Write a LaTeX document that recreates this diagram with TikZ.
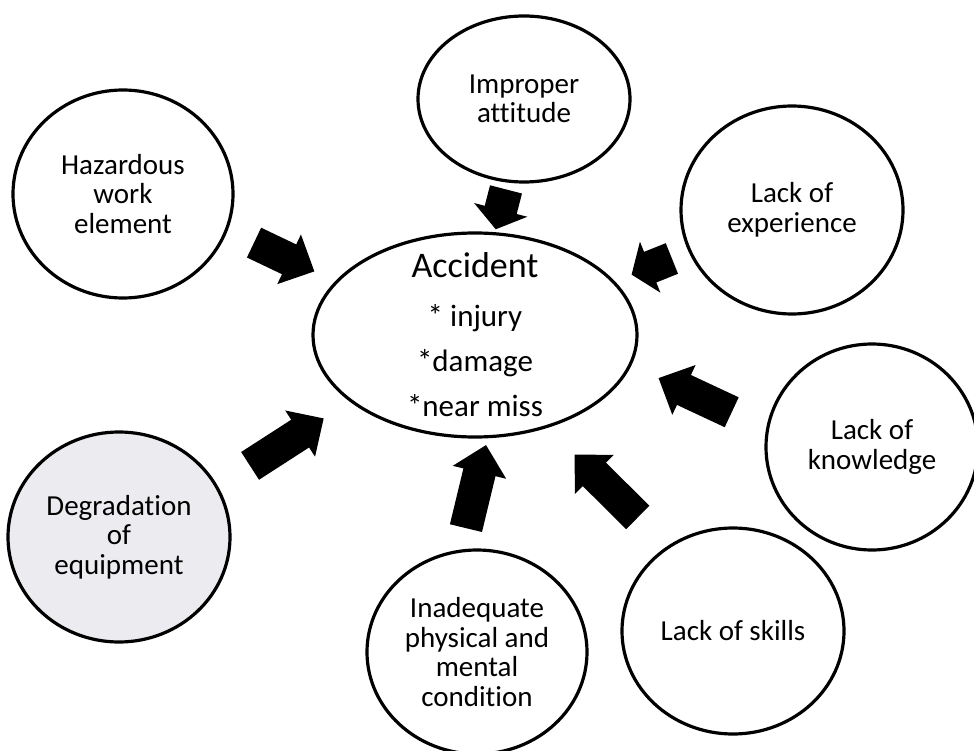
\documentclass[tikz,border=0pt]{standalone}
\usepackage{fontspec}
\setmainfont{Carlito}[Ligatures=NoCommon]
\usetikzlibrary{shapes.geometric, arrows.meta}
\definecolor{wornfill}{RGB}{236,236,240}

% flat block head: the thick shaft stops at its back edge
\pgfdeclarearrow{
  name = Block,
  parameters = {\the\pgfarrowlength,\the\pgfarrowwidth},
  setup code = {
    \pgfarrowssettipend{\pgfarrowlength}
    \pgfarrowssetlineend{1pt}
    \pgfarrowssetbackend{0pt}
    \pgfarrowssavethe\pgfarrowlength
    \pgfarrowssavethe\pgfarrowwidth
  },
  drawing code = {
    \pgfpathmoveto{\pgfqpoint{\pgfarrowlength}{0pt}}
    \pgfpathlineto{\pgfqpoint{0pt}{0.5\pgfarrowwidth}}
    \pgfpathlineto{\pgfqpoint{0pt}{-0.5\pgfarrowwidth}}
    \pgfpathclose
    \pgfusepathqfill
  },
  defaults = {length=28pt 0 0, width=55pt 0 0}
}

\begin{document}
\begin{tikzpicture}[
    x=1pt, y=-1pt,
    cause/.style={ellipse, draw, line width=3.2pt, inner sep=0pt, align=center, font=\fontsize{29}{29.5}\selectfont},
    blockarrow/.style={line width=33pt, -{Block[length=28pt 0 0]}},
    shortarrow/.style={line width=33pt, -{Block[length=20pt 0 0]}}
]
\useasboundingbox (0,0) rectangle (974,751);

% Centre: the accident
\node[ellipse, draw, line width=3.2pt, minimum width=324pt, minimum height=204pt, inner ysep=-30pt, align=center, font=\fontsize{31}{45}\selectfont] (acc) at (475,335) {{\fontsize{36}{45}\selectfont Accident}\\[4pt]* injury\\*damage\\*near miss};

% Causes around it
\node[cause, minimum width=220pt, minimum height=208pt] (haz) at (123,194) {Hazardous\\work\\element};
\node[cause, minimum width=212pt, minimum height=166pt] (att) at (524,99) {Improper\\attitude};
\node[cause, minimum width=222pt, minimum height=208pt] (exp) at (792,210) {Lack of\\experience};
\node[cause, minimum width=212pt, minimum height=206pt] (know) at (872,447) {Lack of\\knowledge};
\node[cause, minimum width=222pt, minimum height=206pt] (skill) at (733,631) {Lack of skills};
\node[cause, minimum width=220pt, minimum height=204pt] (cond) at (477,652) {Inadequate\\physical and\\mental\\condition};
\node[cause, fill=wornfill, minimum width=222pt, minimum height=210pt] (equip) at (119,537) {Degradation\\of\\equipment};

% Arrows
\draw[blockarrow, shorten <=29pt, shorten >=23pt] (haz.-19.6) -- (acc.159.4);
\draw[shortarrow, shorten <=7pt, shorten >=3pt] (att.-101.5) -- (acc.79.5);
\draw[shortarrow, shorten <=18pt, shorten >=18pt] (exp.-158.8) -- (acc.21.9);
\draw[blockarrow, shorten <=38pt, shorten >=30pt] (know.170.5) -- (acc.-11.7);
\draw[blockarrow, shorten <=41pt, shorten >=38pt] (skill.128.1) -- (acc.-52);
\draw[blockarrow, shorten <=22pt, shorten >=7pt] (cond.99.2) -- (acc.-83.3);
\draw[blockarrow, shorten <=38pt, shorten >=31pt] (equip.27.2) -- (acc.-152.6);

\end{tikzpicture}
\end{document}
